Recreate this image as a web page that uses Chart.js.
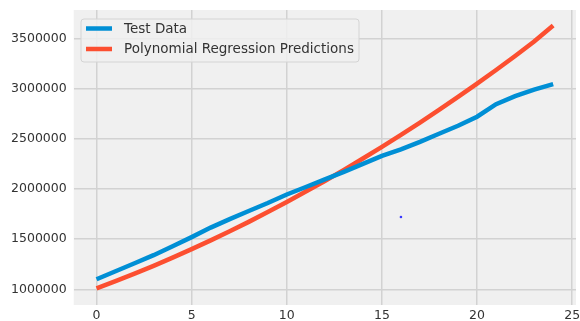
<!DOCTYPE html>
<html>
<head>
<meta charset="utf-8">
<script src="https://cdn.jsdelivr.net/npm/chart.js@4/dist/chart.umd.min.js"></script>
<style>
  html, body { margin: 0; padding: 0; background: #ffffff; }
  #wrap { width: 580px; height: 321px; }
</style>
</head>
<body>
<div id="wrap"><canvas id="grafico" width="580" height="321"></canvas></div>
<script>
// === DATOS ===
const xs = [0, 1, 2, 3, 4, 5, 6, 7, 8, 9, 10, 11, 12, 13, 14, 15, 16, 17, 18, 19, 20, 21, 22, 23, 24];
const testData = [1100000, 1180000, 1260000, 1340000, 1430000, 1520000, 1615000, 1700000, 1780000, 1860000,
  1945000, 2020000, 2095000, 2170000, 2250000, 2330000, 2395000, 2470000, 2550000, 2630000,
  2720000, 2845000, 2925000, 2990000, 3045000];
const polyPred = [1010000, 1082000, 1156000, 1234000, 1316000, 1400000, 1488000, 1578000, 1672000, 1770000,
  1870000, 1974000, 2080000, 2190000, 2304000, 2420000, 2540000, 2662000, 2789000, 2918000,
  3050000, 3186000, 3326000, 3470000, 3630000];
const strayPoint = [{ x: 16.0, y: 1720000 }];
const xTicks = [0, 5, 10, 15, 20, 25];
const yTicks = [1000000, 1500000, 2000000, 2500000, 3000000, 3500000];
const seriesLabels = ["Test Data", "Polynomial Regression Predictions"];

const FONT = "'DejaVu Sans', sans-serif";

// fondo gris del área de trazado
const fondoPlugin = {
  id: "fondo",
  beforeDraw(chart) {
    const { ctx, chartArea: a } = chart;
    ctx.save();
    ctx.fillStyle = "#f0f0f0";
    ctx.fillRect(a.left, a.top, a.right - a.left, a.bottom - a.top);
    ctx.restore();
  }
};

// leyenda estilo matplotlib
const leyendaPlugin = {
  id: "leyenda",
  afterDraw(chart) {
    const ctx = chart.ctx;
    const items = chart.data.datasets.filter(d => d.label);
    const x0 = 81, y0 = 19, w = 278, h = 43, r = 3;
    ctx.save();
    ctx.beginPath();
    ctx.moveTo(x0 + r, y0);
    ctx.arcTo(x0 + w, y0, x0 + w, y0 + h, r);
    ctx.arcTo(x0 + w, y0 + h, x0, y0 + h, r);
    ctx.arcTo(x0, y0 + h, x0, y0, r);
    ctx.arcTo(x0, y0, x0 + w, y0, r);
    ctx.closePath();
    ctx.fillStyle = "rgba(240,240,240,0.85)";
    ctx.fill();
    ctx.strokeStyle = "#d4d4d4";
    ctx.lineWidth = 1;
    ctx.stroke();
    items.forEach((d, i) => {
      const y = 28.5 + i * 20.5;
      ctx.strokeStyle = d.borderColor;
      ctx.lineWidth = 4.5;
      ctx.beginPath();
      ctx.moveTo(86, y);
      ctx.lineTo(112, y);
      ctx.stroke();
      ctx.fillStyle = "#333333";
      ctx.font = "13.5px " + FONT;
      ctx.textBaseline = "middle";
      ctx.fillText(d.label, 124, y + 0.5);
    });
    ctx.restore();
  }
};

new Chart(document.getElementById("grafico").getContext("2d"), {
  type: "line",
  data: {
    datasets: [
      {
        label: seriesLabels[0],
        data: xs.map((x, i) => ({ x, y: testData[i] })),
        borderColor: "#008fd5",
        borderWidth: 4.5,
        pointRadius: 0,
        tension: 0
      },
      {
        label: seriesLabels[1],
        data: xs.map((x, i) => ({ x, y: polyPred[i] })),
        borderColor: "#fc4f30",
        borderWidth: 4.5,
        pointRadius: 0,
        tension: 0
      },
      {
        type: "scatter",
        data: strayPoint,
        pointRadius: 1.3,
        pointBorderWidth: 0,
        backgroundColor: "#3a3aff",
        showLine: false
      }
    ]
  },
  options: {
    responsive: false,
    animation: false,
    layout: { padding: { top: 10, right: 1.2, left: 0, bottom: 0 } },
    plugins: { legend: { display: false }, tooltip: { enabled: false } },
    scales: {
      x: {
        type: "linear",
        min: -1.2,
        max: 25.2,
        afterBuildTicks: s => { s.ticks = xTicks.map(v => ({ value: v })); },
        afterFit: s => { s.height = 16; s.paddingLeft = 0; s.paddingRight = 0; },
        border: { display: false },
        grid: { color: "#d2d2d2", lineWidth: 1.5, drawTicks: false },
        ticks: { color: "#333333", font: { family: FONT, size: 12.5 }, padding: 3, maxRotation: 0 }
      },
      y: {
        type: "linear",
        min: 843600,
        max: 3783900,
        afterBuildTicks: s => { s.ticks = yTicks.map(v => ({ value: v })); },
        afterFit: s => { s.width = 73.7; s.paddingTop = 0; s.paddingBottom = 0; },
        border: { display: false },
        grid: { color: "#d2d2d2", lineWidth: 1.5, drawTicks: false },
        ticks: { color: "#333333", font: { family: FONT, size: 12.5 }, padding: 7, callback: v => String(v) }
      }
    }
  },
  plugins: [fondoPlugin, leyendaPlugin]
});
</script>
</body>
</html>
